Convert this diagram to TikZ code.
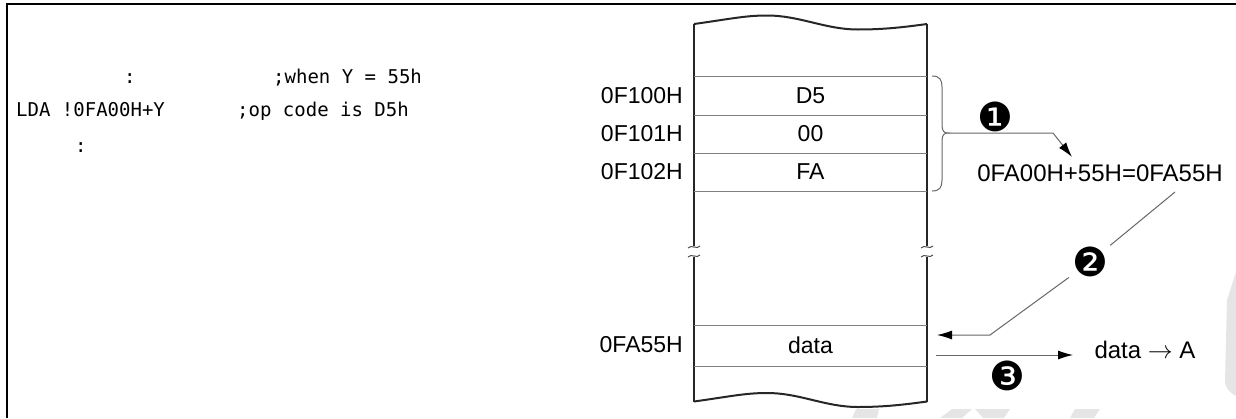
\documentclass[tikz,border=0pt]{standalone}
\usepackage{fontspec}
\setmainfont{Liberation Sans}
\newfontfamily\monof{DejaVu Sans Mono}
\newfontfamily\dingf{DejaVu Sans}
\usetikzlibrary{arrows.meta}
\begin{document}
\begin{tikzpicture}[x=1pt,y=-1pt,
  lab/.style={font=\fontsize{23}{26}\selectfont, inner sep=0pt},
  code/.style={font=\monof\fontsize{19}{22}\selectfont, inner sep=0pt, anchor=base west},
  num/.style={font=\dingf\fontsize{40}{42}\selectfont, inner sep=0pt},
  col/.style={line width=2pt, black!85},
  rowline/.style={line width=1pt, black!50},
  conn/.style={line width=1pt, black!60},
  arr/.style={conn, -{Latex[length=15pt,width=9pt,color=black]}},
  brk/.style={line width=1pt, black!70},
  wm/.style={fill=black!10, draw=none},
]
\useasboundingbox (0,0) rectangle (1236,418);
% faint watermark pieces
\fill[wm] (1236,272) -- (1227,300) -- (1225,380) .. controls (1225,388) and (1229,392) .. (1236,396) -- cycle;
\fill[wm] (856,409) -- (879,409) -- (877,418) -- (852,418) -- cycle;
\fill[wm] (952,409) -- (972,409) -- (962,418) -- (940,418) -- cycle;
\fill[wm] (975,409) -- (1010,409) -- (1004,418) -- (983,418) -- cycle;
\fill[wm] (1075,409) -- (1100,409) -- (1094,418) -- (1070,418) -- cycle;
% frame
\draw[line width=2pt] (6.5,418) -- (6.5,4) -- (1236,4);

% code
\node[code] (c1a) at (124,83) {:};
\node[code] (c1b) at (273,83) {;when Y = 55h};
\node[code] (c2a) at (16,116) {LDA !0FA00H+Y};
\node[code] (c2b) at (237,116) {;op code is D5h};
\node[code] (c3a) at (75,152) {:};

% memory column
\draw[col] (694,24) .. controls (730,19) and (745,15.5) .. (767,15.5) .. controls (800,15.5) and (825,29.5) .. (858,29.5) .. controls (885,29.5) and (905,27) .. (927,24);
\begin{scope}[yshift=-377.5pt]
\draw[col] (694,24) .. controls (730,19) and (745,15.5) .. (767,15.5) .. controls (800,15.5) and (825,29.5) .. (858,29.5) .. controls (885,29.5) and (905,27) .. (927,24);
\end{scope}
\foreach \x in {694,927} {
  \draw[col] (\x,24) -- (\x,246);
  \draw[col] (\x,257) -- (\x,401.5);
  \foreach \y in {247,256}
    \draw[brk] (\x-6,\y+1) .. controls (\x-3,\y-3) and (\x+3,\y+3) .. (\x+6,\y-1);
}
\foreach \y in {76,115,153,191,325,366}
  \draw[rowline] (694,\y) -- (927,\y);

% cells
\node[lab] (d1) at (810.5,96) {D5};
\node[lab] (d2) at (810.5,134) {00};
\node[lab] (d3) at (810.5,172) {FA};
\node[lab] (d4) at (810.5,345) {data};
% addresses
\node[lab,anchor=east] (a1) at (683,96) {0F100H};
\node[lab,anchor=east] (a2) at (683,134) {0F101H};
\node[lab,anchor=east] (a3) at (683,172) {0F102H};
\node[lab,anchor=east] (a4) at (683,345) {0FA55H};

% brace
\draw[conn] (932,76) .. controls (940,76) and (942,80) .. (942,87) -- (942,125) .. controls (942,131) and (944,133) .. (948,133)
  .. controls (944,133) and (942,135) .. (942,141) -- (942,180) .. controls (942,187) and (940,191) .. (932,191);
\coordinate (bt) at (948,133);

% formula and step 1
\node[lab,font=\fontsize{24}{26}\selectfont] (F) at (1100,173.5) {0FA00H+55H=0FA55H};
\node[num] (n1) at (995,117) {❶};
\coordinate (f1) at (1072,157);
\draw[arr] (bt) -- (1053,133) -- (f1);

% step 2
\coordinate (f2) at (1175,192);
\node[num,circle,minimum size=52pt] (n2) at (1090,262) {❷};
\coordinate (m2) at (937,335);
\draw[conn] (f2) -- (n2);
\draw[arr] (n2) -- (990,335) -- (m2);

% step 3
\coordinate (m3) at (936,355);
\node[lab,font=\fontsize{24}{26}\selectfont] (DA) at (1145,350) {data $\rightarrow$ A};
\coordinate (e3) at (1073,355);
\draw[arr] (m3) -- (e3);
\node[num] (n3) at (1007,376) {❸};
\end{tikzpicture}
\end{document}
